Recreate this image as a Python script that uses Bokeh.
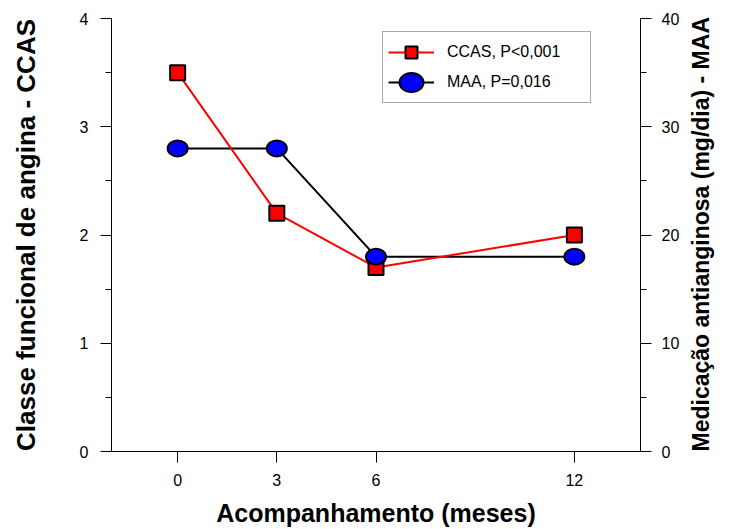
import math
from bokeh.plotting import figure
from bokeh.models import (Range1d, LinearAxis, FixedTicker, Legend, LegendItem,
                          ColumnDataSource)
from bokeh.embed import file_html
from bokeh.resources import INLINE

# ---- data ----
months = [0, 3, 6, 12]
ccas = [3.5, 2.2, 1.7, 2.0]
maa = [28, 28, 18, 18]
x_ticks = [0, 3, 6, 12]
left_ticks = [0, 1, 2, 3, 4]
left_minor = [0.5, 1.5, 2.5, 3.5]
right_ticks = [0, 10, 20, 30, 40]
right_minor = [5, 15, 25, 35]
label_ccas = "CCAS, P<0,001"
label_maa = "MAA, P=0,016"
x_title = "Acompanhamento (meses)"
left_title = "Classe funcional de angina - CCAS"
right_title = "Medicação antianginosa (mg/dia) - MAA"

FONT = "Liberation Sans"

src_c = ColumnDataSource(dict(x=months, y=ccas))
src_m = ColumnDataSource(dict(x=months, y=maa))

p = figure(width=730, height=529, output_backend="svg", toolbar_location=None,
           x_range=Range1d(-2, 14), y_range=Range1d(0, 4),
           min_border_left=111, min_border_right=89, min_border_top=18,
           min_border_bottom=78)
p.extra_y_ranges = {"maa": Range1d(0, 40)}
p.outline_line_color = None
p.grid.visible = False
p.background_fill_color = "white"
p.border_fill_color = "white"

def style_axis(ax, title_size):
    ax.axis_line_color = "black"
    ax.axis_line_width = 1
    ax.major_tick_line_color = "black"
    ax.minor_tick_line_color = "black"
    ax.major_tick_in = 0
    ax.major_tick_out = 11
    ax.minor_tick_in = 0
    ax.minor_tick_out = 6
    ax.major_label_text_font = FONT
    ax.major_label_text_font_size = "16px"
    ax.major_label_text_color = "black"
    ax.axis_label_text_font = FONT
    ax.axis_label_text_font_style = "bold"
    ax.axis_label_text_font_size = title_size
    ax.axis_label_text_color = "black"

# x axis
xa = p.xaxis[0]
xa.ticker = FixedTicker(ticks=x_ticks, minor_ticks=[])
xa.axis_label = x_title
style_axis(xa, "25px")
xa.major_label_standoff = 11
xa.axis_label_standoff = 10

# left axis
ya = p.yaxis[0]
ya.ticker = FixedTicker(ticks=left_ticks, minor_ticks=left_minor)
ya.axis_label = left_title
style_axis(ya, "26px")
ya.major_label_standoff = 12
ya.axis_label_standoff = 36
ya.major_label_orientation = "horizontal"

# right axis
ra = LinearAxis(y_range_name="maa",
                ticker=FixedTicker(ticks=right_ticks, minor_ticks=right_minor),
                axis_label=right_title)
style_axis(ra, "23px")
ra.major_label_standoff = 10
ra.axis_label_standoff = 19
ra.axis_label_orientation = math.pi / 2
ra.axis_label_align = "start"
p.add_layout(ra, "right")

# glyphs
l_m = p.line("x", "y", source=src_m, y_range_name="maa", line_color="black", line_width=2)
l_c = p.line("x", "y", source=src_c, line_color="red", line_width=2)
s_c = p.scatter("x", "y", source=src_c, marker="square", size=15,
                fill_color="red", line_color="black", line_width=2)
e_m = p.ellipse("x", "y", source=src_m, y_range_name="maa", width=20, height=16,
                width_units="screen", height_units="screen",
                fill_color="blue", line_color="black", line_width=2)

legend = Legend(items=[LegendItem(label=label_ccas, renderers=[l_c, s_c]),
                       LegendItem(label=label_maa, renderers=[l_m, e_m])],
                location=(271, 348))
legend.label_text_font = FONT
legend.label_text_font_size = "16px"
legend.label_text_color = "black"
legend.glyph_width = 46
legend.glyph_height = 30
legend.label_width = 138
legend.label_standoff = 13
legend.spacing = -7
legend.padding = 5
legend.margin = 0
legend.border_line_color = "#555555"
legend.border_line_width = 1
legend.background_fill_alpha = 1
p.add_layout(legend, "center")

open("out.html", "w").write(file_html(p, INLINE))
